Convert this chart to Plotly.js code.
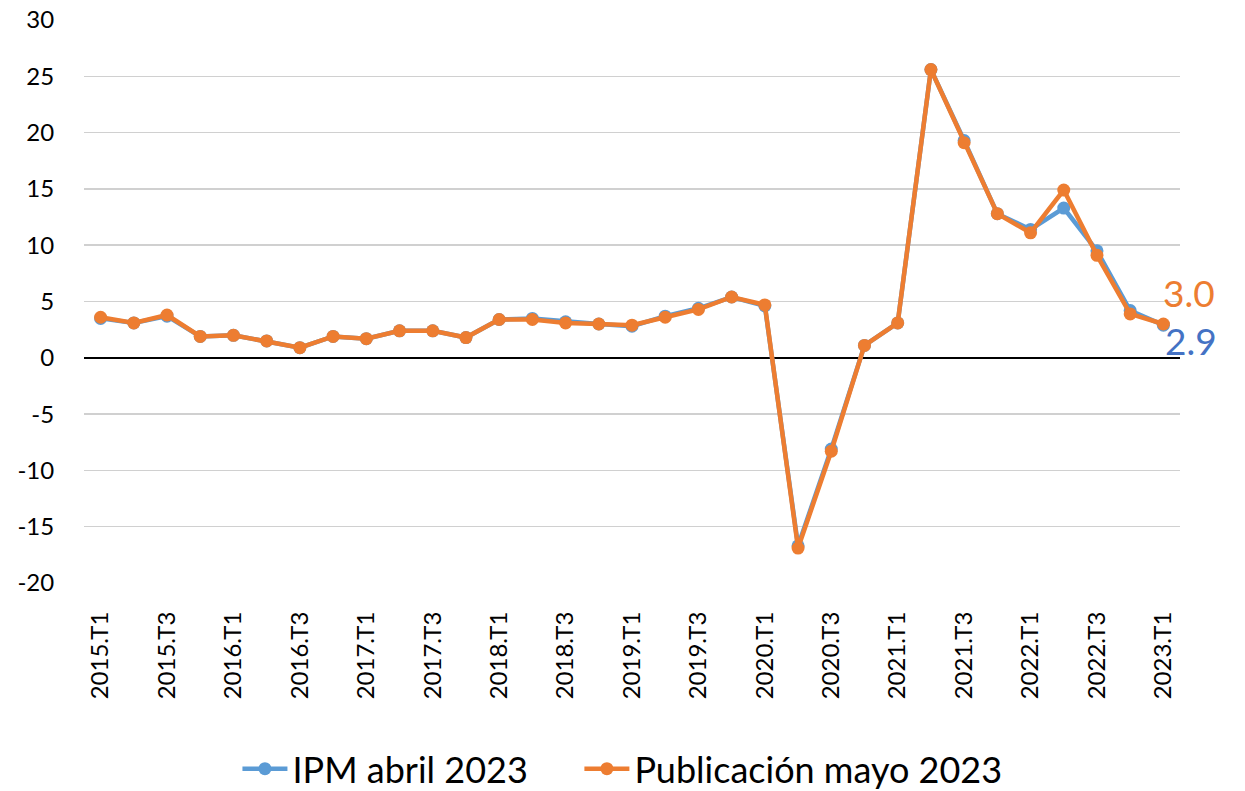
<!DOCTYPE html>
<html>
<head>
<meta charset="utf-8">
<script src="https://cdn.plot.ly/plotly-3.0.1.min.js"></script>
<style>
  html, body { margin: 0; padding: 0; background: #ffffff; }
  #ipm-plot { width: 1245px; height: 791px; }
</style>
</head>
<body>
<div id="ipm-plot"></div>
<script>
// Quarters 2015.T1 .. 2023.T1
const quarters = [
  "2015.T1", "2015.T2", "2015.T3", "2015.T4",
  "2016.T1", "2016.T2", "2016.T3", "2016.T4",
  "2017.T1", "2017.T2", "2017.T3", "2017.T4",
  "2018.T1", "2018.T2", "2018.T3", "2018.T4",
  "2019.T1", "2019.T2", "2019.T3", "2019.T4",
  "2020.T1", "2020.T2", "2020.T3", "2020.T4",
  "2021.T1", "2021.T2", "2021.T3", "2021.T4",
  "2022.T1", "2022.T2", "2022.T3", "2022.T4",
  "2023.T1"
];

// IPM abril 2023 (previous release)
const ipmAbril = [
  3.5, 3.1, 3.7, 1.9,
  2.0, 1.5, 0.9, 1.9,
  1.7, 2.4, 2.4, 1.8,
  3.4, 3.5, 3.2, 3.0,
  2.8, 3.7, 4.4, 5.4,
  4.6, -16.7, -8.1, 1.1,
  3.1, 25.6, 19.3, 12.8,
  11.4, 13.3, 9.5, 4.2,
  2.9
];

// Publicación mayo 2023 (new release)
const pubMayo = [
  3.6, 3.1, 3.8, 1.9,
  2.0, 1.5, 0.9, 1.9,
  1.7, 2.4, 2.4, 1.8,
  3.4, 3.4, 3.1, 3.0,
  2.9, 3.6, 4.3, 5.4,
  4.7, -16.9, -8.3, 1.1,
  3.1, 25.6, 19.1, 12.8,
  11.1, 14.9, 9.1, 3.9,
  3.0
];

// only every other quarter gets a label (T1, T3)
const tickQuarters = quarters.filter((q, i) => i % 2 === 0);

// y ticks with a plain hyphen, like the original
const yTicks = [-20, -15, -10, -5, 0, 5, 10, 15, 20, 25, 30];
const yTickText = yTicks.map(v => String(v));

const BLUE = "#5B9BD5";
const ORANGE = "#ED7D31";
const FONT = "Lato, 'Open Sans', sans-serif";

const traces = [
  {
    x: quarters,
    y: ipmAbril,
    name: "IPM abril 2023",
    mode: "lines+markers",
    line: { color: BLUE, width: 4.5 },
    marker: { color: BLUE, size: 13 },
    legend: "legend"
  },
  {
    x: quarters,
    y: pubMayo,
    name: "Publicación mayo 2023",
    mode: "lines+markers",
    line: { color: ORANGE, width: 4.5 },
    marker: { color: ORANGE, size: 13 },
    legend: "legend2"
  }
];

const last = quarters.length - 1;

// two legends side by side, to get the wide gap between the entries
function legendAt(x) {
  return {
    orientation: "h",
    x: x,
    xanchor: "left",
    y: -0.33,
    yanchor: "middle",
    font: { family: FONT, size: 36, color: "#000000" },
    itemwidth: 45,
    bgcolor: "rgba(0,0,0,0)"
  };
}

const layout = {
  width: 1245,
  height: 791,
  margin: { l: 84, r: 65, t: 20, b: 208, autoexpand: false },
  paper_bgcolor: "#ffffff",
  plot_bgcolor: "#ffffff",
  font: { family: FONT, size: 24, color: "#000000" },
  showlegend: true,
  legend: legendAt(0.14),
  legend2: legendAt(0.452),
  xaxis: {
    type: "category",
    range: [-0.5, quarters.length - 0.5],
    tickmode: "array",
    tickvals: tickQuarters,
    ticktext: tickQuarters,
    tickangle: -90,
    ticks: "outside",
    ticklen: 18,
    tickcolor: "rgba(0,0,0,0)",
    showgrid: false,
    showline: false,
    zeroline: false,
    automargin: false,
    tickfont: { family: FONT, size: 24 }
  },
  yaxis: {
    range: [-20, 30],
    tickmode: "array",
    tickvals: yTicks,
    ticktext: yTickText,
    showgrid: true,
    gridcolor: "#D0D0D0",
    gridwidth: 1.5,
    zeroline: true,
    zerolinecolor: "#000000",
    zerolinewidth: 2,
    showline: false,
    ticks: "outside",
    ticklen: 24,
    tickcolor: "rgba(0,0,0,0)",
    automargin: false,
    tickfont: { family: FONT, size: 24 }
  },
  annotations: [
    {
      x: last, y: 5.8, xref: "x", yref: "y",
      text: pubMayo[last].toFixed(1),
      showarrow: false,
      xanchor: "left", yanchor: "middle", xshift: -2,
      font: { family: FONT, size: 37, color: ORANGE }
    },
    {
      x: last, y: 1.5, xref: "x", yref: "y",
      text: ipmAbril[last].toFixed(1),
      showarrow: false,
      xanchor: "left", yanchor: "middle", xshift: 0,
      font: { family: FONT, size: 37, color: "#4472C4" }
    }
  ]
};

Plotly.newPlot("ipm-plot", traces, layout, { displayModeBar: false, staticPlot: true });
</script>
</body>
</html>
